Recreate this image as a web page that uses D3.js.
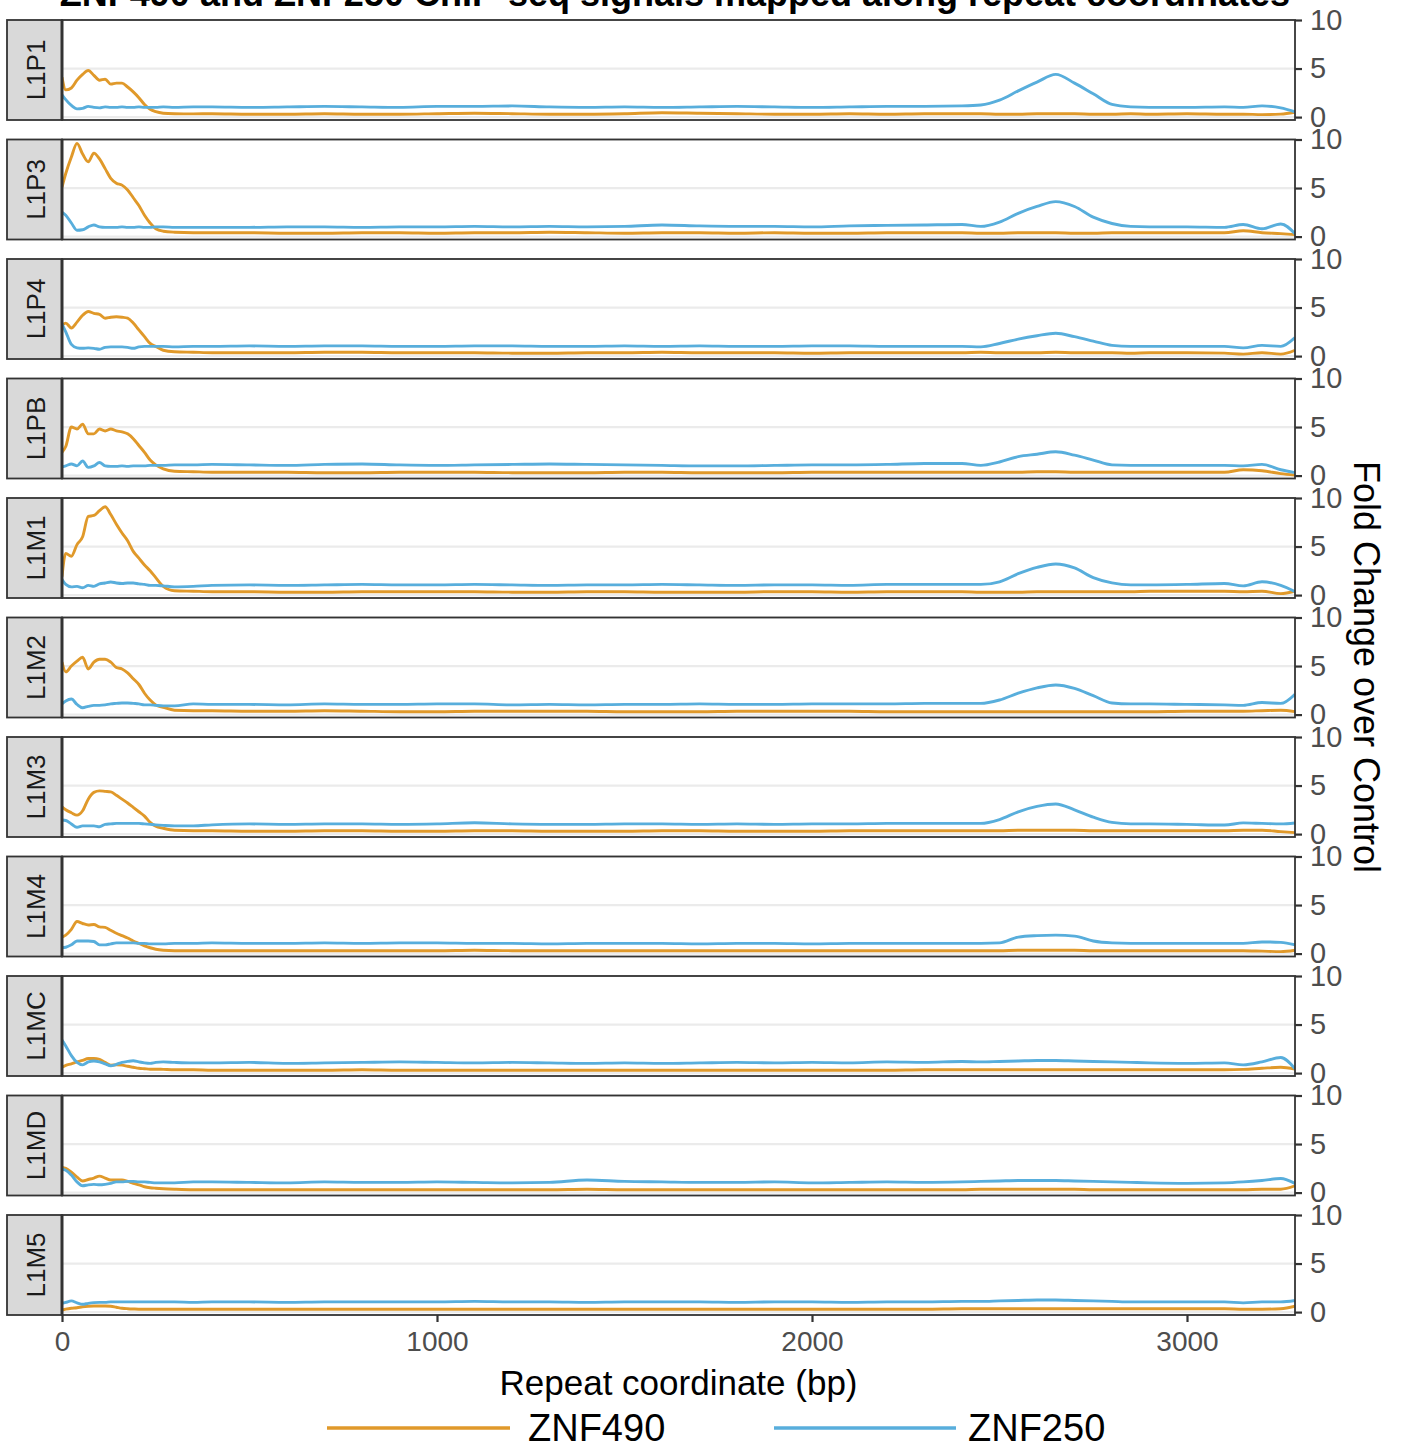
<!DOCTYPE html>
<html><head><meta charset="utf-8">
<script src="https://cdn.jsdelivr.net/npm/d3@7"></script>
<style>body{margin:0;background:#fff;} svg{display:block;font-family:"Liberation Sans",Arial,Helvetica,sans-serif;}</style>
</head><body><svg id="c" width="1403" height="1450"></svg>
<script>
// ---------- DATA ----------
const titleText = "ZNF490 and ZNF250 ChIP-seq signals mapped along repeat coordinates";
const xTitle = "Repeat coordinate (bp)";
const yTitle = "Fold Change over Control";
const repeats = ["L1P1","L1P3","L1P4","L1PB","L1M1","L1M2","L1M3","L1M4","L1MC","L1MD","L1M5"];
const seriesNames = ["ZNF490","ZNF250"];
const xTicks = [0,1000,2000,3000];
const yTicks = [0,5,10];
const positions = [0,10,25,40,55,70,85,100,115,130,145,160,175,190,205,220,235,250,270,300,350,
  400,500,600,700,800,900,1000,1100,1200,1300,1400,1500,1600,1700,1800,1900,2000,2100,2200,2300,
  2400,2450,2500,2550,2600,2650,2700,2750,2800,2850,2900,
  3000,3100,3150,3200,3250,3288];

const L1P1_ZNF490 = [4.1,2.8,3.0,3.8,4.4,4.8,4.3,3.8,3.9,3.4,3.5,3.5,3.1,2.6,2.0,1.3,0.8,0.55,0.4,0.35,0.33,
  0.35,0.3,0.3,0.35,0.3,0.3,0.35,0.4,0.35,0.3,0.3,0.35,0.45,0.4,0.35,0.3,0.3,0.35,0.3,0.35,
  0.35,0.35,0.3,0.3,0.35,0.35,0.35,0.3,0.3,0.35,0.3,
  0.35,0.3,0.3,0.25,0.3,0.5];
const L1P1_ZNF250 = [2.3,1.8,1.2,0.85,0.9,1.1,1.0,0.95,1.05,1.0,1.0,1.05,1.0,1.0,1.05,1.0,1.0,1.0,1.05,1.0,1.05,
  1.05,1.0,1.05,1.1,1.05,1.0,1.1,1.1,1.15,1.05,1.0,1.05,1.0,1.05,1.1,1.05,1.0,1.05,1.1,1.1,
  1.15,1.25,1.75,2.7,3.6,4.4,3.5,2.4,1.3,1.05,1.0,
  1.0,1.05,1.0,1.15,0.95,0.55];
const L1P3_ZNF490 = [5.1,6.5,8.2,9.6,8.5,7.7,8.6,8.0,7.0,6.0,5.5,5.3,4.8,4.0,3.2,2.2,1.4,0.8,0.55,0.45,0.4,
  0.4,0.4,0.35,0.35,0.4,0.4,0.35,0.4,0.4,0.45,0.4,0.35,0.4,0.4,0.35,0.4,0.35,0.35,0.4,0.4,
  0.4,0.35,0.35,0.4,0.4,0.4,0.35,0.35,0.4,0.4,0.4,
  0.4,0.4,0.6,0.4,0.3,0.2];
const L1P3_ZNF250 = [2.5,2.2,1.4,0.65,0.7,1.0,1.2,1.0,0.95,0.95,0.95,1.0,0.95,0.95,1.0,0.95,0.95,1.0,1.0,0.95,0.95,
  0.95,0.95,1.0,1.0,0.95,1.0,1.0,1.05,1.0,1.05,1.0,1.05,1.2,1.1,1.05,1.05,1.0,1.1,1.15,1.2,
  1.25,1.05,1.5,2.4,3.1,3.6,3.1,2.0,1.35,1.05,1.0,
  1.0,0.95,1.25,0.8,1.3,0.3];
const L1P4_ZNF490 = [3.2,3.4,2.9,3.5,4.2,4.6,4.4,4.3,3.9,4.0,4.05,4.0,3.9,3.4,2.7,2.0,1.3,1.0,0.6,0.45,0.4,
  0.35,0.35,0.35,0.4,0.4,0.35,0.35,0.35,0.3,0.3,0.35,0.35,0.4,0.35,0.35,0.35,0.3,0.35,0.35,0.35,
  0.35,0.4,0.35,0.35,0.35,0.4,0.35,0.35,0.35,0.3,0.35,
  0.35,0.3,0.2,0.35,0.2,0.6];
const L1P4_ZNF250 = [3.3,2.5,1.2,0.85,0.8,0.85,0.8,0.7,0.9,0.95,0.95,0.95,0.9,0.8,0.95,1.0,1.0,1.0,1.0,0.95,1.0,
  1.0,1.05,1.0,1.05,1.05,1.0,1.0,1.05,1.05,1.0,1.0,1.05,1.0,1.05,1.0,1.0,1.05,1.05,1.0,1.0,
  1.0,0.95,1.3,1.75,2.1,2.35,2.0,1.55,1.1,1.0,1.0,
  1.0,1.0,0.85,1.1,1.0,1.9];
const L1PB_ZNF490 = [2.4,3.0,5.0,4.8,5.3,4.3,4.3,4.8,4.6,4.8,4.6,4.5,4.3,3.8,3.1,2.4,1.6,1.1,0.7,0.45,0.4,
  0.35,0.35,0.35,0.3,0.3,0.35,0.35,0.35,0.3,0.3,0.3,0.35,0.35,0.3,0.3,0.3,0.35,0.35,0.35,0.35,
  0.35,0.35,0.35,0.35,0.4,0.4,0.35,0.35,0.35,0.35,0.35,
  0.35,0.35,0.6,0.5,0.2,0.05];
const L1PB_ZNF250 = [0.9,1.0,1.2,1.0,1.5,0.85,1.0,1.35,1.0,0.95,0.95,1.0,0.95,1.0,1.0,1.0,1.05,1.05,1.05,1.1,1.1,
  1.15,1.1,1.05,1.15,1.2,1.1,1.05,1.1,1.15,1.2,1.15,1.1,1.05,1.0,1.0,1.05,1.1,1.1,1.15,1.25,
  1.25,1.05,1.4,1.95,2.2,2.45,2.1,1.6,1.1,1.05,1.05,
  1.05,1.05,1.0,1.15,0.6,0.3];
const L1M1_ZNF490 = [1.9,4.3,4.0,5.2,6.0,8.1,8.2,8.7,9.1,8.3,7.3,6.4,5.6,4.5,3.8,3.1,2.5,1.8,0.9,0.45,0.4,
  0.35,0.35,0.3,0.3,0.35,0.35,0.35,0.35,0.3,0.3,0.35,0.35,0.3,0.3,0.3,0.35,0.35,0.3,0.35,0.35,
  0.35,0.3,0.3,0.3,0.35,0.35,0.35,0.35,0.35,0.35,0.4,
  0.4,0.4,0.35,0.4,0.15,0.4];
const L1M1_ZNF250 = [1.6,1.1,0.85,0.9,0.75,1.0,0.9,1.15,1.25,1.35,1.25,1.2,1.25,1.25,1.15,1.1,1.0,1.0,0.95,0.85,0.9,
  1.0,1.05,1.0,1.05,1.1,1.05,1.05,1.1,1.05,1.0,1.05,1.05,1.1,1.05,1.0,1.05,1.05,1.0,1.1,1.1,
  1.1,1.1,1.37,2.2,2.85,3.2,2.8,1.8,1.25,1.05,1.05,
  1.1,1.2,0.95,1.37,1.0,0.35];
const L1M2_ZNF490 = [5.4,4.4,5.0,5.5,5.9,4.7,5.4,5.7,5.7,5.4,4.85,4.7,4.3,3.7,3.1,2.2,1.5,1.0,0.75,0.45,0.4,
  0.4,0.35,0.35,0.4,0.35,0.3,0.3,0.35,0.35,0.35,0.35,0.3,0.3,0.3,0.35,0.35,0.35,0.35,0.3,0.3,
  0.3,0.3,0.3,0.3,0.3,0.3,0.3,0.3,0.3,0.3,0.3,
  0.35,0.35,0.35,0.4,0.45,0.3];
const L1M2_ZNF250 = [1.1,1.4,1.6,1.05,0.7,0.85,0.95,0.95,1.0,1.1,1.15,1.2,1.2,1.15,1.1,1.0,1.0,0.95,0.9,0.9,1.1,
  1.05,1.05,1.0,1.1,1.05,1.05,1.1,1.1,1.0,1.05,1.0,1.05,1.05,1.1,1.05,1.05,1.1,1.1,1.1,1.15,
  1.15,1.15,1.5,2.2,2.75,3.05,2.7,1.95,1.2,1.1,1.1,
  1.05,1.0,0.95,1.25,1.15,2.1];
const L1M3_ZNF490 = [2.8,2.5,2.2,1.95,2.4,3.6,4.3,4.45,4.4,4.35,4.0,3.6,3.2,2.75,2.3,1.85,1.2,0.8,0.6,0.4,0.35,
  0.35,0.3,0.3,0.35,0.35,0.3,0.3,0.35,0.35,0.3,0.3,0.3,0.35,0.35,0.3,0.3,0.3,0.35,0.35,0.35,
  0.35,0.35,0.35,0.4,0.4,0.4,0.4,0.35,0.35,0.35,0.35,
  0.35,0.35,0.4,0.4,0.25,0.15];
const L1M3_ZNF250 = [1.45,1.4,1.05,0.7,0.85,0.85,0.85,0.75,1.0,1.05,1.1,1.1,1.1,1.1,1.1,1.05,1.0,0.95,0.9,0.85,0.85,
  0.95,1.05,1.0,1.05,1.05,1.0,1.05,1.17,1.05,1.0,1.0,1.05,1.05,1.0,1.05,1.0,1.05,1.05,1.1,1.1,
  1.1,1.1,1.5,2.3,2.85,3.1,2.5,1.75,1.2,1.05,1.05,
  1.0,0.93,1.15,1.1,1.05,1.15];
const L1M4_ZNF490 = [1.7,1.9,2.5,3.3,3.1,2.95,3.0,2.75,2.7,2.4,2.1,1.85,1.6,1.3,1.05,0.8,0.6,0.45,0.35,0.3,0.3,
  0.3,0.3,0.3,0.3,0.3,0.3,0.3,0.35,0.3,0.3,0.3,0.3,0.3,0.3,0.3,0.3,0.3,0.3,0.3,0.3,
  0.3,0.3,0.3,0.35,0.35,0.35,0.35,0.3,0.3,0.3,0.3,
  0.3,0.3,0.3,0.25,0.2,0.35];
const L1M4_ZNF250 = [0.6,0.65,0.9,1.3,1.3,1.3,1.25,0.9,0.9,1.0,1.1,1.1,1.1,1.1,1.05,1.05,1.0,1.0,1.0,1.05,1.05,
  1.1,1.05,1.05,1.1,1.05,1.1,1.1,1.05,1.05,1.0,1.05,1.05,1.05,1.0,1.05,1.05,1.0,1.05,1.05,1.05,
  1.05,1.05,1.1,1.7,1.85,1.9,1.8,1.3,1.1,1.05,1.05,
  1.05,1.05,1.05,1.2,1.15,0.9];
const L1MC_ZNF490 = [0.6,0.8,0.95,1.15,1.3,1.5,1.5,1.4,1.1,0.82,0.85,0.82,0.7,0.6,0.5,0.45,0.4,0.4,0.38,0.35,0.35,
  0.3,0.3,0.3,0.3,0.35,0.3,0.3,0.3,0.3,0.3,0.3,0.3,0.3,0.3,0.3,0.3,0.3,0.3,0.3,0.35,
  0.35,0.35,0.35,0.35,0.35,0.35,0.35,0.35,0.35,0.35,0.35,
  0.35,0.35,0.38,0.5,0.6,0.4];
const L1MC_ZNF250 = [3.4,2.8,1.8,1.1,0.85,1.15,1.25,1.15,0.95,0.75,0.9,1.1,1.2,1.27,1.15,1.05,1.0,1.1,1.15,1.1,1.05,
  1.05,1.1,1.0,1.05,1.1,1.15,1.1,1.05,1.1,1.05,1.0,1.05,1.0,1.05,1.1,1.05,1.1,1.05,1.15,1.1,
  1.2,1.15,1.2,1.25,1.3,1.3,1.25,1.2,1.15,1.1,1.05,
  1.0,1.05,0.85,1.15,1.6,0.45];
const L1MD_ZNF490 = [2.6,2.5,2.1,1.6,1.2,1.35,1.5,1.7,1.5,1.3,1.3,1.3,1.15,0.95,0.8,0.6,0.5,0.45,0.4,0.35,0.3,
  0.3,0.3,0.3,0.3,0.3,0.3,0.3,0.3,0.3,0.3,0.35,0.3,0.3,0.3,0.3,0.3,0.3,0.3,0.3,0.3,
  0.3,0.35,0.35,0.35,0.35,0.35,0.35,0.3,0.3,0.3,0.3,
  0.3,0.3,0.3,0.35,0.35,0.7];
const L1MD_ZNF250 = [2.4,2.3,1.8,1.1,0.7,0.8,0.85,0.8,0.85,0.95,1.1,1.1,1.15,1.15,1.1,1.1,1.05,1.0,1.0,1.0,1.1,
  1.1,1.05,1.0,1.1,1.05,1.05,1.1,1.05,1.0,1.05,1.3,1.15,1.1,1.05,1.05,1.1,1.0,1.05,1.1,1.05,
  1.1,1.15,1.2,1.25,1.25,1.25,1.2,1.15,1.1,1.05,1.0,
  0.95,1.0,1.1,1.25,1.45,0.95];
const L1M5_ZNF490 = [0.2,0.3,0.4,0.45,0.55,0.6,0.62,0.62,0.62,0.6,0.5,0.4,0.35,0.32,0.3,0.3,0.3,0.3,0.3,0.3,0.3,
  0.3,0.3,0.3,0.3,0.3,0.3,0.3,0.3,0.3,0.3,0.3,0.3,0.3,0.3,0.3,0.3,0.3,0.3,0.3,0.3,
  0.35,0.35,0.35,0.35,0.35,0.35,0.35,0.35,0.35,0.35,0.35,
  0.35,0.35,0.3,0.3,0.35,0.6];
const L1M5_ZNF250 = [0.9,1.0,1.15,0.95,0.8,0.9,0.97,1.0,1.0,1.05,1.05,1.05,1.05,1.05,1.05,1.05,1.05,1.05,1.05,1.05,1.0,
  1.05,1.05,1.0,1.05,1.05,1.05,1.05,1.1,1.05,1.05,1.0,1.05,1.05,1.05,1.0,1.05,1.05,1.0,1.05,1.05,
  1.1,1.1,1.15,1.2,1.25,1.25,1.2,1.15,1.1,1.05,1.05,
  1.05,1.05,0.95,1.05,1.05,1.2];

const znf490 = [L1P1_ZNF490,L1P3_ZNF490,L1P4_ZNF490,L1PB_ZNF490,L1M1_ZNF490,L1M2_ZNF490,L1M3_ZNF490,L1M4_ZNF490,L1MC_ZNF490,L1MD_ZNF490,L1M5_ZNF490];
const znf250 = [L1P1_ZNF250,L1P3_ZNF250,L1P4_ZNF250,L1PB_ZNF250,L1M1_ZNF250,L1M2_ZNF250,L1M3_ZNF250,L1M4_ZNF250,L1MC_ZNF250,L1MD_ZNF250,L1M5_ZNF250];

// ---------- LAYOUT ----------
const colors = {ZNF490:"#E0992A", ZNF250:"#58AEDC"};
const plotL = 62, plotR = 1295, stripL = 7;
const panelTop0 = 20, panelStep = 119.5, panelH = 100;

const svg = d3.select("#c");
const x = d3.scaleLinear().domain([0, 3288]).range([plotL, plotR]);

svg.append("text").attr("x", 675).attr("y", 6).attr("text-anchor","middle")
  .attr("font-size", 36).attr("font-weight","bold").attr("fill","#000").text(titleText);

const line = (yS) => d3.line().x((d,i)=>x(positions[i])).y(d=>yS(d)).curve(d3.curveMonotoneX);

repeats.forEach((rep, i) => {
  const top = panelTop0 + panelStep*i;
  const y = d3.scaleLinear().domain([-0.3, 10]).range([top+panelH, top]);
  const g = svg.append("g");
  g.append("rect").attr("x",plotL).attr("y",top).attr("width",plotR-plotL).attr("height",panelH).attr("fill","#fff");
  g.selectAll("line.grid").data(yTicks).enter().append("line")
    .attr("x1",plotL).attr("x2",plotR).attr("y1",d=>y(d)).attr("y2",d=>y(d))
    .attr("stroke","#ebebeb").attr("stroke-width",2.2);
  const cid = "clip"+i;
  svg.append("clipPath").attr("id",cid).append("rect")
    .attr("x",plotL).attr("y",top).attr("width",plotR-plotL).attr("height",panelH);
  const lg = g.append("g").attr("clip-path",`url(#${cid})`);
  [["ZNF490", znf490[i]], ["ZNF250", znf250[i]]].forEach(([name, vals]) => {
    lg.append("path").datum(vals).attr("d", line(y)).attr("fill","none")
      .attr("stroke", colors[name]).attr("stroke-width",2.9).attr("stroke-linejoin","round");
  });
  g.append("rect").attr("x",plotL).attr("y",top).attr("width",plotR-plotL).attr("height",panelH)
    .attr("fill","none").attr("stroke","#333").attr("stroke-width",1.8);
  // strip
  g.append("rect").attr("x",stripL).attr("y",top).attr("width",plotL-stripL).attr("height",panelH)
    .attr("fill","#d9d9d9").attr("stroke","#333").attr("stroke-width",1.8);
  g.append("line").attr("x1",plotL).attr("x2",plotL).attr("y1",top).attr("y2",top+panelH)
    .attr("stroke","#333").attr("stroke-width",3);
  g.append("text").attr("transform",`translate(${(stripL+plotL)/2+1},${top+panelH/2}) rotate(-90)`)
    .attr("text-anchor","middle").attr("dominant-baseline","central")
    .attr("font-size",26).attr("fill","#1a1a1a").text(rep);
  // right axis
  const ax = g.append("g").attr("transform",`translate(${plotR},0)`)
    .call(d3.axisRight(y).tickValues(yTicks).tickSize(7).tickPadding(8).tickFormat(d3.format("d")));
  ax.select(".domain").remove();
  ax.selectAll(".tick line").attr("stroke","#333").attr("stroke-width",2.2);
  ax.selectAll(".tick text").attr("fill","#4d4d4d").attr("font-size",29).attr("font-family",null);
  if (i === repeats.length-1) {
    const bx = svg.append("g").attr("transform",`translate(0,${top+panelH})`)
      .call(d3.axisBottom(x).tickValues(xTicks).tickSize(7).tickPadding(9).tickFormat(d3.format("d")));
    bx.select(".domain").remove();
    bx.selectAll(".tick line").attr("stroke","#333").attr("stroke-width",2.2);
    bx.selectAll(".tick text").attr("fill","#4d4d4d").attr("font-size",28).attr("font-family",null);
  }
});

svg.append("text").attr("x",(plotL+plotR)/2).attr("y",1382).attr("text-anchor","middle")
  .attr("dominant-baseline","central").attr("font-size",35).attr("fill","#000").text(xTitle);

svg.append("text").attr("transform",`translate(1366,667) rotate(90)`).attr("text-anchor","middle")
  .attr("dominant-baseline","central").attr("font-size",36).attr("fill","#000").text(yTitle);

// legend
const legend = [
  {name:"ZNF490", x1:327, x2:510, tx:528},
  {name:"ZNF250", x1:774, x2:956, tx:968}
];
legend.forEach(l => {
  svg.append("line").attr("x1",l.x1).attr("x2",l.x2).attr("y1",1428).attr("y2",1428)
    .attr("stroke",colors[l.name]).attr("stroke-width",3.5);
  svg.append("text").attr("x",l.tx).attr("y",1428).attr("dominant-baseline","central")
    .attr("font-size",38).attr("fill","#000").text(l.name);
});
</script></body></html>
